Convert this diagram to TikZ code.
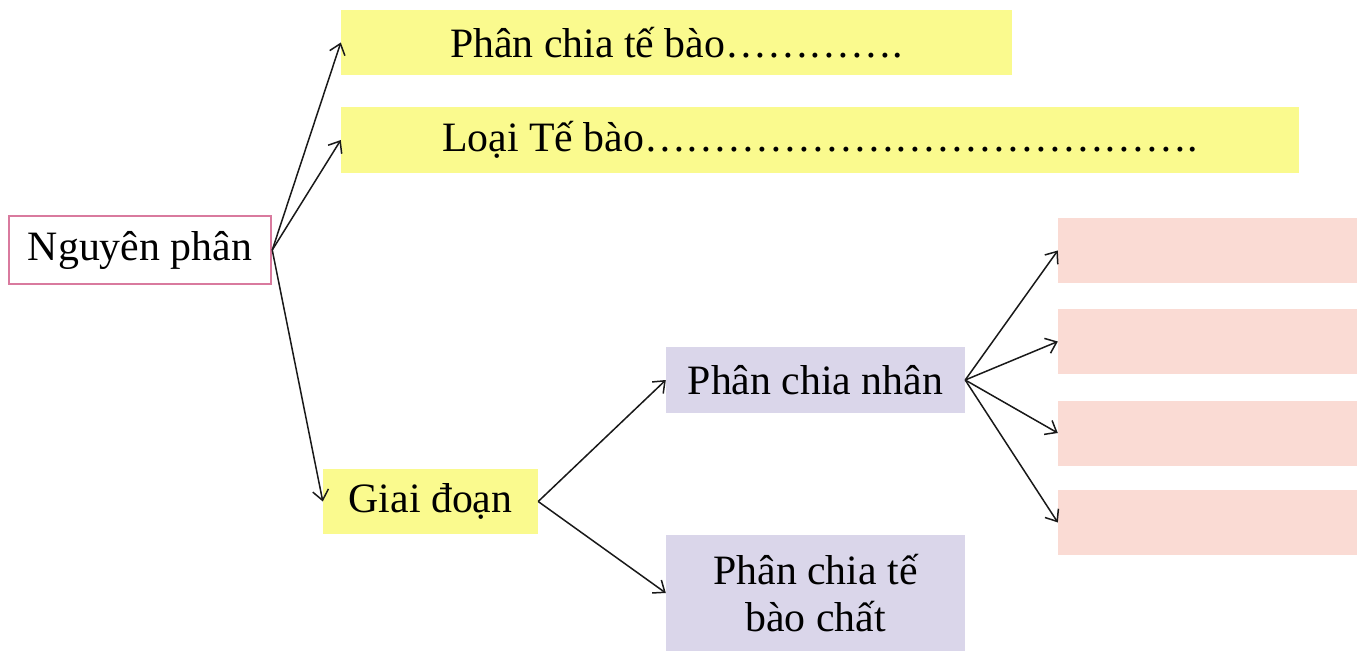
\documentclass[tikz,border=0pt]{standalone}
\usepackage{fontspec}
\setmainfont{Liberation Serif}
\usetikzlibrary{arrows.meta}
\definecolor{boxyellow}{RGB}{250,250,142}
\definecolor{boxlav}{RGB}{218,214,234}
\definecolor{boxpink}{RGB}{250,219,212}
\definecolor{edgepink}{RGB}{217,122,158}
\newcommand{\elfour}{…………}
\tikzset{
  base/.style={rectangle, inner sep=0pt, font=\fontsize{41.8}{47}\selectfont, align=center},
  ybox/.style={base, fill=boxyellow},
  lbox/.style={base, fill=boxlav},
  pbox/.style={base, fill=boxpink, minimum width=299pt, minimum height=65pt},
  conn/.style={-{Straight Barb[length=10pt,width=16pt]}, line width=1.5pt, black!90}
}
\begin{document}
\begin{tikzpicture}[x=1pt,y=-1pt]
\useasboundingbox (0,0) rectangle (1359,652);
\node[base, draw=edgepink, line width=2.5pt, minimum width=262pt, minimum height=68pt] (np) at (140,250) {Nguyên phân};
\node[ybox, minimum width=671pt, minimum height=65pt] (t1) at (676.5,42.5) {Phân chia tế bào\elfour.};
\node[ybox, minimum width=958pt, minimum height=66pt] (t2) at (820,140) {Loại Tế bào\elfour\elfour\elfour….};
\node[ybox, minimum width=215pt, minimum height=65pt] (gd) at (430.5,501.5) {Giai đoạn};
\node[lbox, minimum width=299pt, minimum height=66pt] (pn) at (815.5,380) {Phân chia nhân};
\node[lbox, minimum width=299pt, minimum height=116pt] (pc) at (815.5,593) {Phân chia tế\\bào chất};
\node[pbox] (r1) at (1207.5,250.5) {};
\node[pbox] (r2) at (1207.5,341.5) {};
\node[pbox] (r3) at (1207.5,433) {};
\node[pbox] (r4) at (1207.5,522.5) {};
\draw[conn] (np.east) -- (t1.west);
\draw[conn] (np.east) -- (t2.west);
\draw[conn] (np.east) -- (gd.west);
\draw[conn] (gd.east) -- (pn.west);
\draw[conn] (gd.east) -- (pc.west);
\draw[conn] (pn.east) -- (r1.west);
\draw[conn] (pn.east) -- (r2.west);
\draw[conn] (pn.east) -- (r3.west);
\draw[conn] (pn.east) -- (r4.west);
\end{tikzpicture}
\end{document}
